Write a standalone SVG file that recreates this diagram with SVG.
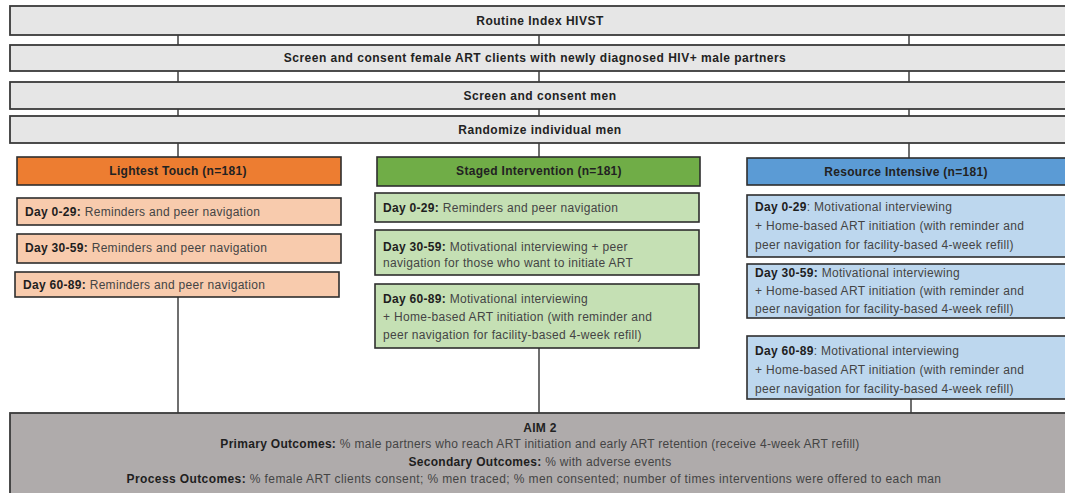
<svg xmlns="http://www.w3.org/2000/svg" width="1065" height="493" viewBox="0 0 1065 493">
<style>
.top{fill:#e6e6e6;stroke:#3a3a3a;stroke-width:1.8}
.hd{font-family:"Liberation Sans",Arial,sans-serif;font-weight:bold;font-size:12px;fill:#222;text-anchor:middle;letter-spacing:0.3px}
.th{letter-spacing:0.5px}
.tx{font-family:"Liberation Sans",Arial,sans-serif;font-size:12px;fill:#444;letter-spacing:0.3px}
.b{font-weight:bold;fill:#1e1e1e}
.o{fill:#f8cbad;stroke:#2e2e2e;stroke-width:1.6}
.g{fill:#c5e0b4;stroke:#2e2e2e;stroke-width:1.6}
.bl{fill:#bdd7ee;stroke:#2e2e2e;stroke-width:1.6}
.ln{stroke:#333;stroke-width:1.4;fill:none}
</style>
<rect width="1065" height="493" fill="#fff"/>
<g id="connectors">
<path class="ln" d="M178 35V45M539 35V45M909 35V45M178 71V82M539 71V82M909 71V82M178 109V116M539 109V116M909 109V116M178 143V157M539 143V157M909 143V158M178 297V413M539 348V413M911 399V413"/>
</g>
<g id="n1"><rect class="top" x="10" y="6" width="1056" height="29"/><text class="hd th" x="540" y="25">Routine Index HIVST</text></g>
<g id="n2"><rect class="top" x="10" y="45" width="1056" height="26"/><text class="hd th" x="535" y="62">Screen and consent female ART clients with newly diagnosed HIV+ male partners</text></g>
<g id="n3"><rect class="top" x="10" y="82" width="1056" height="27"/><text class="hd th" x="540" y="100">Screen and consent men</text></g>
<g id="n4"><rect class="top" x="10" y="116" width="1056" height="27"/><text class="hd th" x="540" y="134">Randomize individual men</text></g>

<g id="lt"><rect x="17" y="157" width="324" height="28" fill="#ed7d31" stroke="#2e2e2e" stroke-width="1.6"/><text class="hd" x="178" y="175">Lightest Touch (n=181)</text></g>
<g id="lt1"><rect class="o" x="17" y="198" width="324" height="27"/><text class="tx" x="25" y="216"><tspan class="b">Day 0-29:</tspan> Reminders and peer navigation</text></g>
<g id="lt2"><rect class="o" x="17" y="234" width="324" height="29"/><text class="tx" x="25" y="252"><tspan class="b">Day 30-59:</tspan> Reminders and peer navigation</text></g>
<g id="lt3"><rect class="o" x="15" y="272" width="324" height="25"/><text class="tx" x="23" y="289"><tspan class="b">Day 60-89:</tspan> Reminders and peer navigation</text></g>

<g id="si"><rect x="377" y="157" width="323" height="29" fill="#70ad47" stroke="#2e2e2e" stroke-width="1.6"/><text class="hd" x="539" y="175">Staged Intervention (n=181)</text></g>
<g id="si1"><rect class="g" x="375" y="193" width="324" height="29"/><text class="tx" x="383" y="212"><tspan class="b">Day 0-29:</tspan> Reminders and peer navigation</text></g>
<g id="si2"><rect class="g" x="375" y="230" width="324" height="45"/><text class="tx" x="383" y="251"><tspan class="b">Day 30-59:</tspan> Motivational interviewing + peer</text><text class="tx" x="383" y="267">navigation for those who want to initiate ART</text></g>
<g id="si3"><rect class="g" x="375" y="284" width="324" height="64"/><text class="tx" x="383" y="303"><tspan class="b">Day 60-89:</tspan> Motivational interviewing</text><text class="tx" x="383" y="321">+ Home-based ART initiation (with reminder and</text><text class="tx" x="383" y="339">peer navigation for facility-based 4-week refill)</text></g>

<g id="ri"><rect x="747" y="158" width="320" height="27" fill="#5b9bd5" stroke="#2e2e2e" stroke-width="1.6"/><text class="hd" x="906" y="176">Resource Intensive (n=181)</text></g>
<g id="ri1"><rect class="bl" x="747" y="195" width="320" height="62"/><text class="tx" x="755" y="211"><tspan class="b">Day 0-29</tspan>: Motivational interviewing</text><text class="tx" x="755" y="230">+ Home-based ART initiation (with reminder and</text><text class="tx" x="755" y="249">peer navigation for facility-based 4-week refill)</text></g>
<g id="ri2"><rect class="bl" x="747" y="264" width="320" height="54"/><text class="tx" x="755" y="277"><tspan class="b">Day 30-59:</tspan> Motivational interviewing</text><text class="tx" x="755" y="295">+ Home-based ART initiation (with reminder and</text><text class="tx" x="755" y="313">peer navigation for facility-based 4-week refill)</text></g>
<g id="ri3"><rect class="bl" x="747" y="336" width="320" height="63"/><text class="tx" x="755" y="355"><tspan class="b">Day 60-89</tspan>: Motivational interviewing</text><text class="tx" x="755" y="374">+ Home-based ART initiation (with reminder and</text><text class="tx" x="755" y="393">peer navigation for facility-based 4-week refill)</text></g>

<g id="aim"><rect x="10" y="413" width="1060" height="85" fill="#afabab" stroke="#3a3a3a" stroke-width="1.8"/>
<text class="hd" x="540" y="432">AIM 2</text>
<text class="tx" x="540" y="448" text-anchor="middle"><tspan class="b">Primary Outcomes:</tspan> % male partners who reach ART initiation and early ART retention (receive 4-week ART refill)</text>
<text class="tx" x="540" y="466" text-anchor="middle"><tspan class="b">Secondary Outcomes:</tspan> % with adverse events</text>
<text class="tx" x="534" y="483" text-anchor="middle" style="letter-spacing:0.4px"><tspan class="b">Process Outcomes:</tspan> % female ART clients consent; % men traced; % men consented; number of times interventions were offered to each man</text>
</g>
</svg>
